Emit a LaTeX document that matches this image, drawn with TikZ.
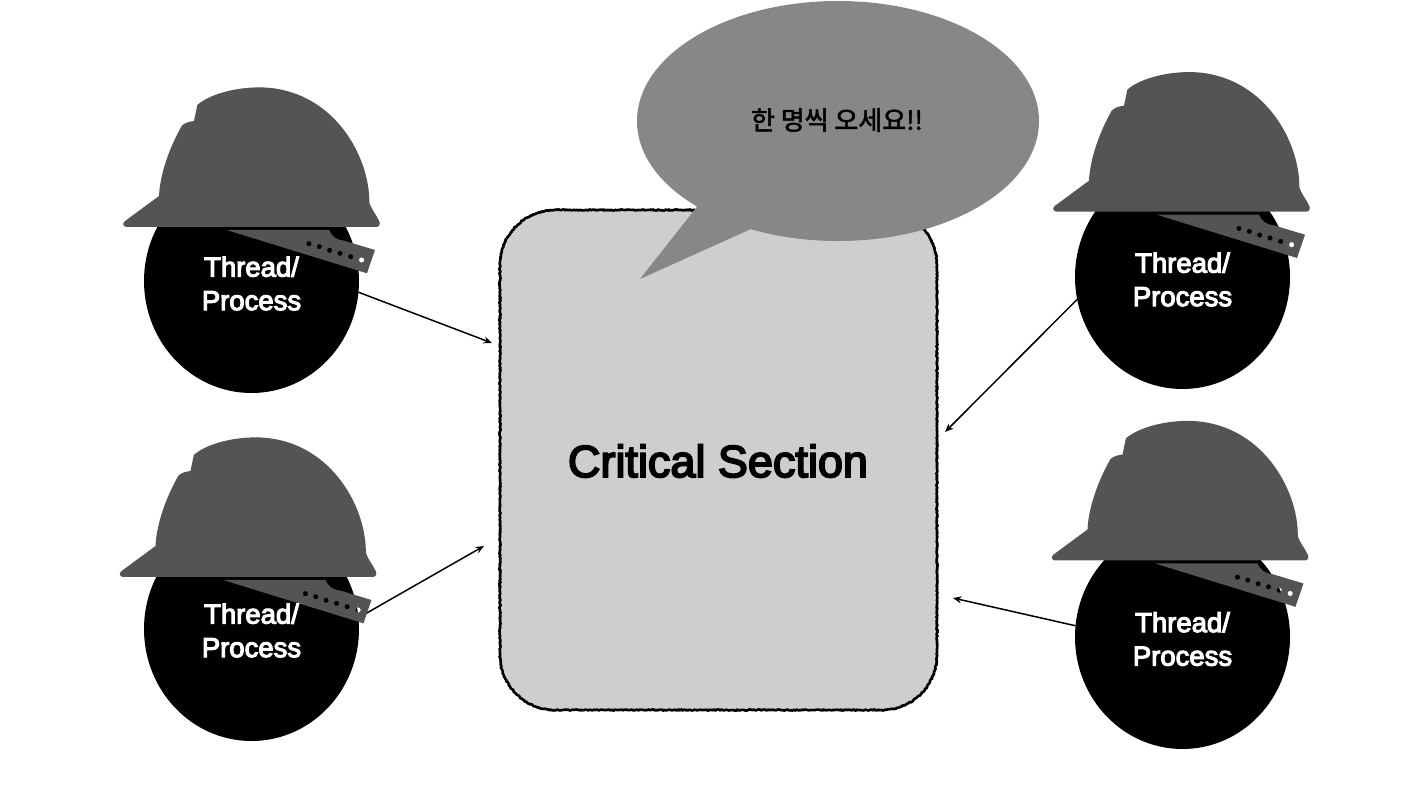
\documentclass[tikz,border=0pt]{standalone}
\usepackage{fontspec}
\usetikzlibrary{shapes.geometric,decorations.pathmorphing,arrows.meta,calc}
\newfontfamily\hv[RawFeature={embolden=4}]{Liberation Sans}
\newfontfamily\kr[RawFeature={embolden=2}]{Noto Sans CJK KR}
\definecolor{hatgray}{HTML}{545454}
\definecolor{boxgray}{HTML}{CECECE}
\definecolor{bubblegray}{HTML}{878787}
\tikzset{
  person/.style={ellipse,fill=black,minimum width=215pt,minimum height=224pt,inner sep=0pt,outer sep=0pt},
  who/.style={text=white,font=\hv\fontsize{27.5}{33.5}\selectfont,align=center,inner sep=0pt},
  flow/.style={draw=black,line width=1.5pt,-{Stealth[length=8.5pt,width=7pt]}},
  hatshape/.style={fill=hatgray,draw=none}
}
% hat drawn with zoom-crop units, origin at top-left of crop
\newcommand{\hardhat}[2]{%
  \begin{scope}[shift={(#1,#2)},x=0.3333pt,y=-0.3333pt]
    \path[hatshape] (52,441) -- (798,441) .. controls (808,441) and (812,432) .. (808,424)
      .. controls (800,405) and (785,390) .. (778,368)
      .. controls (780,230) and (670,25) .. (450,22)
      .. controls (370,22) and (295,45) .. (262,75)
      -- (252,123) .. controls (235,125) and (222,130) .. (215,138)
      .. controls (180,200) and (150,280) .. (147,348)
      -- (44,424) .. controls (36,432) and (40,441) .. (52,441) -- cycle;
    \path[hatshape,even odd rule] (350,450) -- (657,450) .. controls (665,470) and (680,480) .. (702,482)
      -- (795,510) -- (771,580) -- cycle
      (597,491) circle (8) (628,500) circle (8) (659,511) circle (8)
      (690,520) circle (8) (722,530) circle (8) (755,540) circle (8);
  \end{scope}}
\begin{document}
\begin{tikzpicture}[x=1pt,y=-1pt]
\useasboundingbox (0,0) rectangle (1426,800);
% critical section
\path[fill=boxgray] (500,265) arc[start angle=180,end angle=90,x radius=55,y radius=-55] -- (882,210) arc[start angle=90,end angle=0,x radius=55,y radius=-55] -- (937,655) arc[start angle=0,end angle=-90,x radius=55,y radius=-55] -- (555,710) arc[start angle=-90,end angle=-180,x radius=55,y radius=-55] -- cycle;
\draw[black,line width=2.6pt,line join=round,decorate,decoration={random steps,segment length=1pt,amplitude=0.6pt}]
  (500,265) arc[start angle=180,end angle=90,x radius=55,y radius=-55] -- (882,210) arc[start angle=90,end angle=0,x radius=55,y radius=-55] -- (937,655) arc[start angle=0,end angle=-90,x radius=55,y radius=-55] -- (555,710) arc[start angle=-90,end angle=-180,x radius=55,y radius=-55] -- cycle;
\node[text=black,font=\hv\fontsize{45}{50}\selectfont,inner sep=0pt] (cs) at (718,461) {Critical Section};
% people
\node[person] (t1) at (251.5,281) {};
\node[person] (t2) at (251.5,629) {};
\node[person] (t3) at (1182.5,277) {};
\node[person] (t4) at (1182.5,637) {};
\coordinate (e1) at (492,343);
\coordinate (e2) at (484,546);
\coordinate (e3) at (945,432);
\coordinate (e4) at (953,598);
\draw[flow] (t1.-6) -- (e1);
\draw[flow] (t2.6) -- (e2);
\draw[flow] (t3.192) -- (e3);
\draw[flow] (t4.174) -- (e4);
% hats
\hardhat{110}{80}
\hardhat{106.5}{430}
\hardhat{1040}{64.7}
\hardhat{1038.5}{413.5}
\node[who] (l1) at (251.5,283.5) {Thread/\\Process};
\node[who] (l2) at (251.5,630.5) {Thread/\\Process};
\node[who] (l3) at (1182.5,279.5) {Thread/\\Process};
\node[who] (l4) at (1182.5,639) {Thread/\\Process};
% bubble
\path[fill=bubblegray] (838,121) ellipse[x radius=201,y radius=120];
\path[fill=bubblegray] (696,208) -- (640,279) -- (751,229) -- (770,200) -- (710,180) -- cycle;
\node[text=black,font=\kr\fontsize{26}{30}\selectfont,inner sep=0pt] (say) at (837,120) {한 명씩 오세요!!};
\end{tikzpicture}
\end{document}
